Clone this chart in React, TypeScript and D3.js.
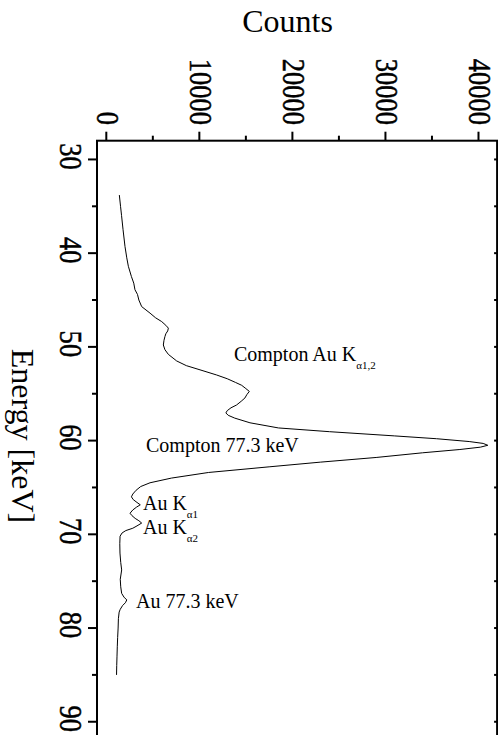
import React from "react";
import * as d3 from "d3";

// Spectrum (energy in keV, counts)
const energy = [
  33.8, 35.0, 36.0, 37.5, 39.3, 40.5, 41.4, 42.5, 43.2, 43.9, 44.4, 45.0, 45.7, 46.4, 46.9, 47.3, 47.7, 48.0, 48.3,
  48.6, 48.9, 49.3, 49.8, 50.3, 50.8, 51.5, 52.0, 52.45, 53.0, 53.4, 53.8, 54.1, 54.45, 54.75, 55.1,
  55.45, 55.8, 56.2, 56.5, 56.8, 57.05, 57.3, 57.6, 58.1, 58.65, 59.05, 59.5, 59.8, 60.1, 60.3, 60.5,
  60.7, 60.95, 61.3, 61.8, 62.3, 62.8, 63.4, 64.0, 64.5, 64.9, 65.3, 65.7, 66.0, 66.3, 66.6, 66.85,
  67.1, 67.4, 67.75, 68.0, 68.3, 68.55, 68.8, 69.1, 69.35, 69.6, 69.85, 70.2, 71.0, 72.0, 73.0, 73.8,
  74.8, 75.6, 76.3, 76.7, 77.0, 77.3, 77.6, 78.0, 78.3, 79.0, 80.0, 81.0, 82.0, 83.0, 84.0, 85.0,
];
const counts = [
  1400, 1530, 1640, 1800, 2010, 2200, 2370, 2700, 2950, 3080, 3350, 3500, 3800, 4700, 5300, 5950, 6400, 6670, 6600,
  6400, 6300, 6200, 6130, 6300, 6670, 7560, 8600, 10070, 11860, 13000, 13900, 14550, 15000, 15370, 15100,
  14900, 14500, 14000, 13400, 13000, 12850, 13100, 13800, 15440, 18500, 24000, 31000, 35500, 39000, 40500, 41000,
  40200, 38000, 34000, 29000, 23000, 17500, 11000, 7000, 4700, 3700, 3200, 2850, 2700, 2900, 3300, 3650,
  3250, 2850, 2550, 2750, 3100, 3500, 3800, 3300, 2850, 2100, 1700, 1480, 1450, 1470, 1550, 1650,
  1500, 1550, 1650, 1900, 2200, 2050, 1750, 1500, 1380, 1300, 1270, 1220, 1180, 1150, 1120, 1100,
];

const countTicks = [0, 10000, 20000, 30000, 40000];
const countMinorTicks = [5000, 15000, 25000, 35000];
const energyTicks = [30, 40, 50, 60, 70, 80, 90];
const energyMinorTicks = [35, 45, 55, 65, 75, 85];
const energyRightTicks = [30, 35, 40, 45, 50, 55, 60, 65, 70, 75, 80, 85, 90];

// Annotations: main text, subscript, anchor energy, anchor counts
const labelText = ["Compton Au K", "Compton 77.3 keV", "Au K", "Au K", "Au 77.3 keV"];
const labelSub = ["α1,2", "", "α1", "α2", ""];
const labelEnergy = [51.5, 61.2, 67.4, 69.96, 77.85];
const labelCounts = [13720, 4270, 3940, 3940, 3190];

export default function App() {
  const W = 498;
  const H = 735;
  const x = d3.scaleLinear().domain([-1000, 42000]).range([97, 497.1]);
  const y = d3.scaleLinear().domain([28, 92]).range([140.7, 740.5]);
  const font = "'Liberation Serif', 'Times New Roman', serif";

  const pts = energy.map((e, i) => [counts[i], e] as [number, number]);
  const line = d3
    .line<[number, number]>()
    .x((d) => x(d[0]))
    .y((d) => y(d[1]))
    .curve(d3.curveLinear);

  const top = y(28);
  const left = x(-1000);
  const right = x(42000);

  return (
    <svg
      width={W}
      height={H}
      style={{ position: "absolute", left: 0, top: 0, background: "#fff" }}
      fontFamily={font}
    >
      <rect x={0} y={0} width={W} height={H} fill="#fff" />
      {/* frame */}
      <rect x={left} y={top} width={right - left} height={y(92) - top} fill="none" stroke="#000" strokeWidth={2} />

      {/* top axis ticks */}
      {countTicks.map((v) => (
        <line key={"ct" + v} x1={x(v)} x2={x(v)} y1={top} y2={top - 9} stroke="#000" strokeWidth={2} />
      ))}
      {countMinorTicks.map((v) => (
        <line key={"cm" + v} x1={x(v)} x2={x(v)} y1={top} y2={top - 5} stroke="#000" strokeWidth={2} />
      ))}
      {countTicks.map((v) => (
        <text
          key={"cl" + v}
          transform={`translate(${x(v) + 1.5},125) rotate(90) scale(0.83,1)`}
          textAnchor="end"
          dy="0.35em"
          fontSize={32}
          fill="#000"
          stroke="#000"
          strokeWidth={0.5}
        >
          {v}
        </text>
      ))}

      {/* left axis ticks */}
      {energyTicks.map((v) => (
        <line key={"et" + v} x1={left} x2={left - 9} y1={y(v)} y2={y(v)} stroke="#000" strokeWidth={2} />
      ))}
      {energyMinorTicks.map((v) => (
        <line key={"em" + v} x1={left} x2={left - 5} y1={y(v)} y2={y(v)} stroke="#000" strokeWidth={2} />
      ))}
      {energyTicks.map((v) => (
        <text
          key={"el" + v}
          transform={`translate(71.7,${y(v) - 3}) rotate(90) scale(0.83,1)`}
          textAnchor="middle"
          dy="0.35em"
          fontSize={32}
          fill="#000"
          stroke="#000"
          strokeWidth={0.5}
        >
          {v}
        </text>
      ))}

      {/* right axis ticks (inward) */}
      {energyRightTicks.map((v) => (
        <line key={"er" + v} x1={right} x2={right - 3} y1={y(v)} y2={y(v)} stroke="#000" strokeWidth={2} />
      ))}

      {/* axis titles */}
      <text x={287.5} y={32} textAnchor="middle" fontSize={32} fill="#000">
        Counts
      </text>
      <text transform={`translate(12,436) rotate(90)`} textAnchor="middle" fontSize={32} fill="#000">
        Energy [keV]
      </text>

      {/* spectrum */}
      <path d={line(pts) || ""} fill="none" stroke="#000" strokeWidth={1} strokeLinejoin="round" />

      {/* annotations */}
      {labelText.map((t, i) => (
        <text key={"lb" + i} x={x(labelCounts[i])} y={y(labelEnergy[i])} fontSize={20} fill="#000">
          {t}
          {labelSub[i] ? (
            <tspan fontSize={11} dy={8}>
              {labelSub[i]}
            </tspan>
          ) : null}
        </text>
      ))}
    </svg>
  );
}
